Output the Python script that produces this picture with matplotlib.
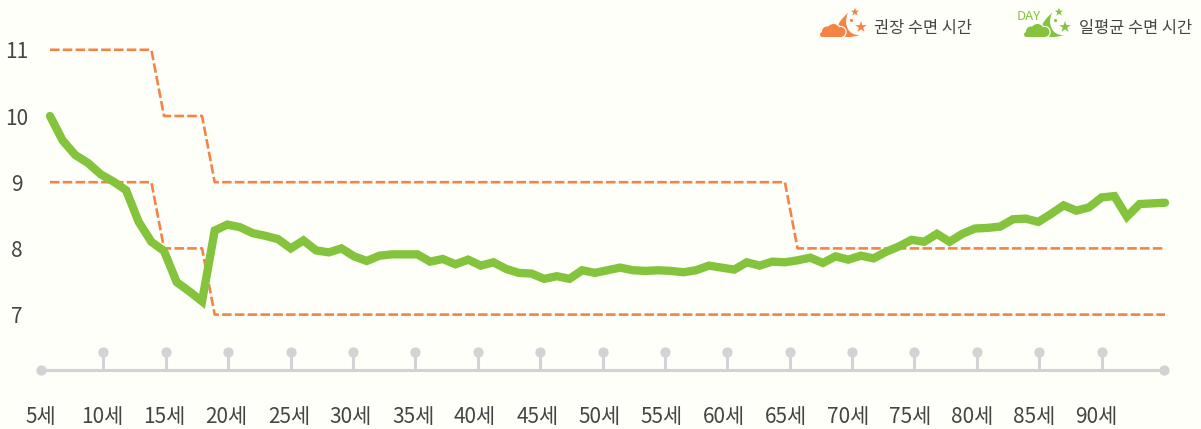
import matplotlib
matplotlib.use("Agg")
import matplotlib.pyplot as plt
from matplotlib.patches import Circle, Rectangle, PathPatch
from matplotlib.path import Path

W, H = 1201, 429
BG = "#FFFFF9"; ORANGE = "#F58345"; GREEN = "#84C43C"; GRAY = "#D3D3D6"; TEXT = "#454545"

ages = list(range(5, 94))
sleep_avg = [10.0, 9.63, 9.41, 9.29, 9.12, 9.01, 8.88, 8.40, 8.10, 7.96, 7.49, 7.35, 7.20, 8.27, 8.36,
             8.32, 8.23, 8.19, 8.14, 8.00, 8.12, 7.97, 7.94, 8.00, 7.88, 7.81, 7.89, 7.91, 7.91, 7.91,
             7.80, 7.84, 7.76, 7.83, 7.74, 7.79, 7.69, 7.63, 7.62, 7.54, 7.58, 7.54, 7.67, 7.63, 7.67,
             7.71, 7.67, 7.66, 7.67, 7.66, 7.64, 7.67, 7.74, 7.71, 7.68, 7.79, 7.74, 7.80, 7.79, 7.82,
             7.86, 7.78, 7.88, 7.83, 7.89, 7.85, 7.95, 8.03, 8.13, 8.10, 8.22, 8.10, 8.22, 8.30, 8.31,
             8.33, 8.44, 8.45, 8.40, 8.52, 8.65, 8.57, 8.62, 8.77, 8.79, 8.48, 8.67, 8.68, 8.69]
rec_upper = [11]*9 + [10]*4 + [9]*46 + [8]*30
rec_lower = [9]*9 + [8]*4 + [7]*76
y_ticks = [7, 8, 9, 10, 11]
axis_ages = list(range(5, 95, 5))
axis_labels = [f"{a}세" for a in axis_ages]
legend_labels = ["권장 수면 시간", "일평균 수면 시간"]

KR = ["Noto Sans CJK KR", "DejaVu Sans"]

fig = plt.figure(figsize=(W/100, H/100), dpi=100, facecolor=BG)

def px_axes(x0, x1, y_top, y_bot):
    return fig.add_axes([x0/W, 1-y_bot/H, (x1-x0)/W, (y_bot-y_top)/H])

# main plot
ax = px_axes(50, 1165, 0, 429)
ax.set_facecolor("none")
ax.set_xlim(5, 93)
ax.set_ylim(8-180.6/66.2, 8+248.4/66.2)
ax.plot(ages, rec_upper, color=ORANGE, lw=1.9, dashes=(3.6, 1.25), clip_on=False)
ax.plot(ages, rec_lower, color=ORANGE, lw=1.9, dashes=(3.6, 1.25), clip_on=False)
ax.plot(ages, sleep_avg, color=GREEN, lw=6.0, solid_capstyle="round", solid_joinstyle="miter", clip_on=False, zorder=3)
for s in ax.spines.values():
    s.set_visible(False)
ax.set_xticks([])
ax.set_yticks(y_ticks)
ax.set_yticklabels([str(v) for v in y_ticks], family=KR, fontsize=15, color=TEXT, ha="center")
ax.tick_params(axis="y", length=0, pad=24)

# timeline axis
tl = px_axes(41, 1164, 352, 370)
tl.set_facecolor("none")
tl.set_xlim(5, 95)
tl.set_ylim(0, 1)
tl.plot([5, 95], [0, 0], color=GRAY, lw=2.2, clip_on=False, solid_capstyle="butt")
stems = axis_ages[1:]
tl.vlines(stems, 0, 1, color=GRAY, lw=2.2, clip_on=False)
tl.scatter(stems, [1]*len(stems), s=55, color=GRAY, clip_on=False, linewidths=0, zorder=3)
tl.scatter([5, 95], [0, 0], s=55, color=GRAY, clip_on=False, linewidths=0, zorder=3)
for s in tl.spines.values():
    s.set_visible(False)
tl.set_xticks([]); tl.set_yticks([])

# age labels run on a slightly tighter spacing than the stems
lab = px_axes(40.5, 1096, 352, 370)
lab.set_facecolor("none")
lab.set_xlim(5, 90)
for s in lab.spines.values():
    s.set_visible(False)
lab.set_yticks([])
lab.set_xticks(axis_ages)
lab.set_xticklabels(axis_labels, family=KR, fontsize=15, color=TEXT)
lab.tick_params(axis="x", length=0, pad=26)

# legend glyphs (decorative, pixel overlay)
ov = px_axes(0, W, 0, H)
ov.set_xlim(0, W); ov.set_ylim(H, 0); ov.axis("off"); ov.set_facecolor("none")

def icon(ox, c):
    verts = [(ox+48, 13), (ox+28, 30), (ox+38, 42), (ox+60, 35),
             (ox+48, 36), (ox+43, 24), (ox+48, 13), (ox+48, 13)]
    codes = [Path.MOVETO, Path.CURVE4, Path.CURVE4, Path.CURVE4,
             Path.CURVE4, Path.CURVE4, Path.CURVE4, Path.CLOSEPOLY]
    ov.add_patch(PathPatch(Path(verts, codes), fc=c, ec="none", zorder=4))
    bumps = [(22.5, 34.5, 2.5), (27, 31.5, 5), (33.5, 30.5, 6.5), (40.5, 32, 5)]
    for dx, dy, r in bumps:
        ov.add_patch(Circle((ox+dx, dy), r+1.2, fc=BG, ec="none", zorder=5))
    ov.add_patch(Rectangle((ox+20, 36), 25, 3, fc=BG, ec="none", zorder=5))
    for dx, dy, r in bumps:
        ov.add_patch(Circle((ox+dx, dy), r, fc=c, ec="none", zorder=6))
    ov.add_patch(Rectangle((ox+22.5, 31), 18, 6, fc=c, ec="none", zorder=6))
    ov.scatter([ox+55, ox+61], [12, 27], s=[42, 75], marker="*", color=c, linewidths=0, zorder=6)
    ov.scatter([ox+51], [20], s=5, color=c, linewidths=0, zorder=6)

icon(800, ORANGE)
icon(1004, GREEN)
ov.text(1017, 16, "DAY", family=KR, fontsize=9.5, color=GREEN, ha="left", va="center")
ov.text(874, 29, legend_labels[0], family=KR, fontsize=11.8, color=TEXT, ha="left", va="center")
ov.text(1079, 29, legend_labels[1], family=KR, fontsize=11.8, color=TEXT, ha="left", va="center")

fig.savefig("out.png", dpi=100, facecolor=BG)
